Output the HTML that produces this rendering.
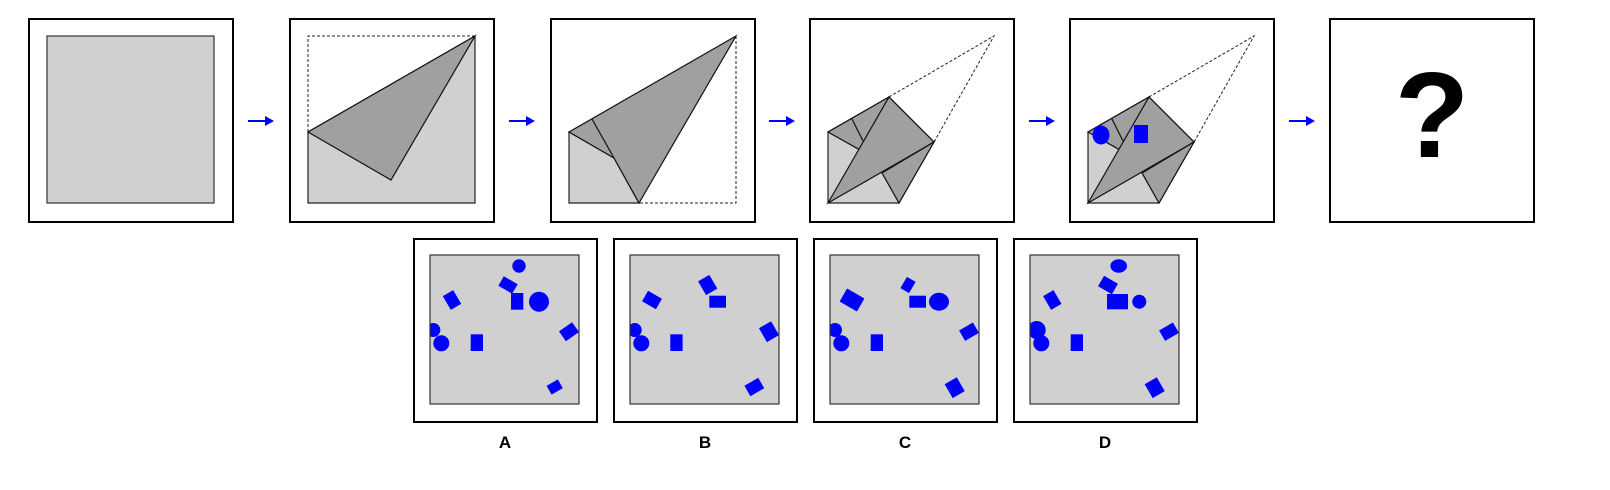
<!DOCTYPE html>
<html><head><meta charset="utf-8"><style>
html,body{margin:0;padding:0;background:#fff;}
svg{display:block;}
text{font-family:"Liberation Sans",sans-serif;}
</style></head><body>
<svg width="1610" height="490" viewBox="0 0 1610 490">
<defs>
  <g id="arrow"><line x1="-13" y1="0" x2="6" y2="0" stroke="#0000ff" stroke-width="2"/><polygon points="4,-5 13,0 4,5" fill="#0000ff"/></g>
  <clipPath id="ci"><rect x="0" y="0" width="149" height="149"/></clipPath>
</defs>

<!-- top row panels -->
<g>
  <rect x="29" y="19" width="204" height="203" fill="#fff" stroke="#000" stroke-width="2"/>
  <rect x="47" y="36" width="167" height="167" fill="#d0d0d0" stroke="#333" stroke-width="1.2"/>
</g>
<use href="#arrow" x="261" y="121"/>

<g>
  <rect x="290" y="19" width="204" height="203" fill="#fff" stroke="#000" stroke-width="2"/>
  <g transform="translate(308,36)">
    <polygon points="0,96 0,167 167,167 167,0" fill="#d0d0d0" stroke="#222" stroke-width="1.2"/>
    <polyline points="0,96 0,0 167,0" fill="none" stroke="#222" stroke-width="1" stroke-dasharray="3,2"/>
    <polygon points="0,96 167,0 83,144" fill="#a0a0a0" stroke="#111" stroke-width="1.2"/>
  </g>
</g>
<use href="#arrow" x="522" y="121"/>

<g>
  <rect x="551" y="19" width="204" height="203" fill="#fff" stroke="#000" stroke-width="2"/>
  <g transform="translate(569,36)">
    <polygon points="0,96 45,122 70,167 0,167" fill="#d0d0d0" stroke="#222" stroke-width="1.2"/>
    <polyline points="167,0 167,167 70,167" fill="none" stroke="#222" stroke-width="1" stroke-dasharray="3,2"/>
    <polygon points="0,96 167,0 70,167 45,122" fill="#a0a0a0" stroke="#111" stroke-width="1.2"/>
    <line x1="23" y1="83" x2="45" y2="122" stroke="#111" stroke-width="1.2"/>
  </g>
</g>
<use href="#arrow" x="782" y="121"/>

<g>
  <rect x="810" y="19" width="204" height="203" fill="#fff" stroke="#000" stroke-width="2"/>
  <g transform="translate(828,36)">
    <polygon points="0,96 61,61 106,106 71,167 0,167" fill="#d0d0d0" stroke="#222" stroke-width="1.2"/>
    <polyline points="61,61 166,0 106,106" fill="none" stroke="#222" stroke-width="1" stroke-dasharray="3,2"/>
    <polygon points="0,96 61,61 32,114" fill="#a0a0a0" stroke="#111" stroke-width="1.2"/>
    <polygon points="0,167 61,61 106,106" fill="#a0a0a0" stroke="#111" stroke-width="1.2"/>
    <polygon points="106,106 71,167 54,137" fill="#a0a0a0" stroke="#111" stroke-width="1.2"/>
    <line x1="24" y1="83" x2="35" y2="105" stroke="#111" stroke-width="1.2"/>
  </g>
</g>
<use href="#arrow" x="1042" y="121"/>

<g>
  <rect x="1070" y="19" width="204" height="203" fill="#fff" stroke="#000" stroke-width="2"/>
  <g transform="translate(1088,36)">
    <polygon points="0,96 61,61 106,106 71,167 0,167" fill="#d0d0d0" stroke="#222" stroke-width="1.2"/>
    <polyline points="61,61 166,0 106,106" fill="none" stroke="#222" stroke-width="1" stroke-dasharray="3,2"/>
    <polygon points="0,96 61,61 32,114" fill="#a0a0a0" stroke="#111" stroke-width="1.2"/>
    <polygon points="0,167 61,61 106,106" fill="#a0a0a0" stroke="#111" stroke-width="1.2"/>
    <polygon points="106,106 71,167 54,137" fill="#a0a0a0" stroke="#111" stroke-width="1.2"/>
    <line x1="24" y1="83" x2="35" y2="105" stroke="#111" stroke-width="1.2"/>
    <ellipse cx="13" cy="99" rx="8.5" ry="9.5" fill="#0000ff"/>
    <rect x="46" y="89" width="14" height="18" fill="#0000ff"/>
  </g>
</g>
<use href="#arrow" x="1302" y="121"/>

<g>
  <rect x="1330" y="19" width="204" height="203" fill="#fff" stroke="#000" stroke-width="2"/>
  <text x="1432" y="157" text-anchor="middle" font-size="122" font-weight="bold" fill="#000">?</text>
</g>

<!-- answer options -->
<g transform="translate(414,239)">
  <rect x="0" y="0" width="183" height="183" fill="#fff" stroke="#000" stroke-width="2"/>
  <g transform="translate(16,16)">
    <rect x="0" y="0" width="149" height="149" fill="#d0d0d0"/>
    <g clip-path="url(#ci)" fill="#0000ff">
      <circle cx="89" cy="11" r="6.7"/>
      <rect x="-8" y="-5.5" width="16" height="11" transform="translate(78,30) rotate(30)"/>
      <rect x="81" y="38" width="12.3" height="16.7"/>
      <circle cx="109" cy="46.7" r="10"/>
      <rect x="-8" y="-6" width="16" height="12" transform="translate(22,45) rotate(60)"/>
      <circle cx="3.3" cy="75" r="7"/>
      <circle cx="11.3" cy="88.3" r="8"/>
      <rect x="40.7" y="79.3" width="12.3" height="16.7"/>
      <rect x="-8" y="-6" width="16" height="12" transform="translate(139,76.7) rotate(-35)"/>
      <rect x="-6.5" y="-5" width="13" height="10" transform="translate(124.7,132) rotate(-30)"/>
    </g>
    <rect x="0" y="0" width="149" height="149" fill="none" stroke="#333" stroke-width="1.2"/>
  </g>
  <text x="91" y="209" text-anchor="middle" font-size="17" font-weight="bold">A</text>
</g>

<g transform="translate(614,239)">
  <rect x="0" y="0" width="183" height="183" fill="#fff" stroke="#000" stroke-width="2"/>
  <g transform="translate(16,16)">
    <rect x="0" y="0" width="149" height="149" fill="#d0d0d0"/>
    <g clip-path="url(#ci)" fill="#0000ff">
      <rect x="-8" y="-6.5" width="16" height="13" transform="translate(77.7,30) rotate(60)"/>
      <rect x="79.3" y="40.7" width="16.7" height="12"/>
      <rect x="-8" y="-6" width="16" height="12" transform="translate(22,45) rotate(30)"/>
      <circle cx="4.7" cy="75" r="7"/>
      <circle cx="11.3" cy="88.3" r="8"/>
      <rect x="40.3" y="79.3" width="12.3" height="16.7"/>
      <rect x="-7" y="-8" width="14" height="16" transform="translate(139,76.7) rotate(-30)"/>
      <rect x="-8" y="-6" width="16" height="12" transform="translate(124.3,132) rotate(-30)"/>
    </g>
    <rect x="0" y="0" width="149" height="149" fill="none" stroke="#333" stroke-width="1.2"/>
  </g>
  <text x="91" y="209" text-anchor="middle" font-size="17" font-weight="bold">B</text>
</g>

<g transform="translate(814,239)">
  <rect x="0" y="0" width="183" height="183" fill="#fff" stroke="#000" stroke-width="2"/>
  <g transform="translate(16,16)">
    <rect x="0" y="0" width="149" height="149" fill="#d0d0d0"/>
    <g clip-path="url(#ci)" fill="#0000ff">
      <rect x="-5" y="-6.5" width="10" height="13" transform="translate(78,30) rotate(30)"/>
      <rect x="79.3" y="40.7" width="16.7" height="12"/>
      <ellipse cx="109" cy="46.7" rx="10" ry="9"/>
      <rect x="-10" y="-7.5" width="20" height="15" transform="translate(22,45) rotate(30)"/>
      <circle cx="5" cy="75" r="7"/>
      <circle cx="11.3" cy="88.3" r="8"/>
      <rect x="40.7" y="79.3" width="12.3" height="16.7"/>
      <rect x="-8" y="-6" width="16" height="12" transform="translate(139,76.7) rotate(-30)"/>
      <rect x="-7" y="-8" width="14" height="16" transform="translate(124.7,132.7) rotate(-30)"/>
    </g>
    <rect x="0" y="0" width="149" height="149" fill="none" stroke="#333" stroke-width="1.2"/>
  </g>
  <text x="91" y="209" text-anchor="middle" font-size="17" font-weight="bold">C</text>
</g>

<g transform="translate(1014,239)">
  <rect x="0" y="0" width="183" height="183" fill="#fff" stroke="#000" stroke-width="2"/>
  <g transform="translate(16,16)">
    <rect x="0" y="0" width="149" height="149" fill="#d0d0d0"/>
    <g clip-path="url(#ci)" fill="#0000ff">
      <ellipse cx="88.7" cy="11" rx="8.3" ry="6.7"/>
      <rect x="-8" y="-6" width="16" height="12" transform="translate(78,30) rotate(30)"/>
      <rect x="77" y="39" width="21" height="15.3"/>
      <circle cx="109.3" cy="46.7" r="7"/>
      <rect x="-8" y="-6" width="16" height="12" transform="translate(22.3,45) rotate(60)"/>
      <circle cx="6.7" cy="75" r="9"/>
      <circle cx="11.3" cy="88.3" r="8"/>
      <rect x="40.7" y="79.3" width="12.3" height="16.7"/>
      <rect x="-8" y="-6" width="16" height="12" transform="translate(139,76.7) rotate(-30)"/>
      <rect x="-7" y="-8" width="14" height="16" transform="translate(124.7,132.7) rotate(-30)"/>
    </g>
    <rect x="0" y="0" width="149" height="149" fill="none" stroke="#333" stroke-width="1.2"/>
  </g>
  <text x="91" y="209" text-anchor="middle" font-size="17" font-weight="bold">D</text>
</g>
</svg>
</body></html>
